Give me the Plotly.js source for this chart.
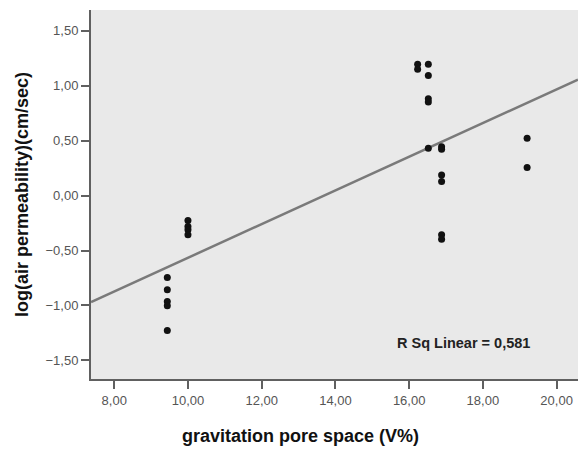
<!DOCTYPE html>
<html>
<head>
<meta charset="utf-8">
<script src="https://cdn.plot.ly/plotly-3.0.1.min.js"></script>
<style>html,body{margin:0;padding:0;background:#fff;}#chart{width:578px;height:452px;}</style>
</head>
<body>
<div id="chart"></div>
<script>
// Data
var poreSpace = [9.44, 9.44, 9.44, 9.44, 9.44,
                 10.0, 10.0, 10.0, 10.0,
                 16.23, 16.23,
                 16.52, 16.52, 16.52, 16.52, 16.52,
                 16.88, 16.88, 16.88, 16.88, 16.88, 16.88,
                 19.2, 19.2];
var logPerm = [-0.745, -0.857, -0.964, -1.003, -1.227,
               -0.227, -0.282, -0.312, -0.357,
               1.195, 1.149,
               1.195, 1.091, 0.880, 0.850, 0.431,
               0.445, 0.422, 0.188, 0.127, -0.357, -0.397,
               0.522, 0.255];
var xTickVals = [8, 10, 12, 14, 16, 18, 20];
var yTickVals = [-1.5, -1.0, -0.5, 0, 0.5, 1.0, 1.5];
var rSqLabel = "R Sq Linear = 0,581";

// Least-squares fit line computed from the data
var n = poreSpace.length, sx = 0, sy = 0;
for (var i = 0; i < n; i++) { sx += poreSpace[i]; sy += logPerm[i]; }
var mx = sx / n, my = sy / n, sxy = 0, sxx = 0;
for (var i = 0; i < n; i++) { sxy += (poreSpace[i]-mx)*(logPerm[i]-my); sxx += (poreSpace[i]-mx)*(poreSpace[i]-mx); }
var slope = sxy / sxx, intercept = my - slope * mx;
var xRange = [7.37, 20.58];
var fitX = xRange.slice();
var fitY = fitX.map(function (x) { return intercept + slope * x; });

var traces = [
  { x: fitX, y: fitY, type: 'scatter', mode: 'lines',
    line: { color: '#7a7a7a', width: 2.5 }, hoverinfo: 'skip', showlegend: false },
  { x: poreSpace, y: logPerm, type: 'scatter', mode: 'markers',
    marker: { color: '#111111', size: 7 }, showlegend: false }
];

var tickFont = { family: 'Arial, Liberation Sans, sans-serif', size: 13, color: '#555555' };
var layout = {
  width: 578, height: 452,
  margin: { l: 91, r: 0, t: 10, b: 73 },
  paper_bgcolor: '#ffffff',
  plot_bgcolor: '#e9e9e9',
  separators: ',.',
  showlegend: false,
  xaxis: {
    range: xRange, tickvals: xTickVals, tickformat: '.2f',
    showgrid: false, zeroline: false,
    showline: true, linecolor: '#606060', linewidth: 2,
    ticks: 'outside', ticklen: 8, tickwidth: 2, tickcolor: '#606060',
    tickfont: tickFont
  },
  yaxis: {
    range: [-1.669, 1.688], tickvals: yTickVals, tickformat: '.2f',
    showgrid: false, zeroline: false,
    showline: true, linecolor: '#606060', linewidth: 2,
    ticks: 'outside', ticklen: 8, tickwidth: 2, tickcolor: '#606060',
    tickfont: tickFont,
    title: { text: 'log(air permeability)(cm/sec)', standoff: 12,
             font: { family: 'Arial, Liberation Sans, sans-serif', size: 18, color: '#111111', weight: 'bold' } }
  },
  annotations: [
    { text: '<b>gravitation pore space (V%)</b>', xref: 'paper', yref: 'paper',
      x: (300 - 91) / 487, y: -0.155, xanchor: 'center', yanchor: 'middle', showarrow: false,
      font: { family: 'Arial, Liberation Sans, sans-serif', size: 18, color: '#111111' } },
    { text: '<b>' + rSqLabel + '</b>', xref: 'paper', yref: 'paper',
      x: (463.5 - 91) / 487, y: (379 - 343) / 369, xanchor: 'center', yanchor: 'middle', showarrow: false,
      font: { family: 'Arial, Liberation Sans, sans-serif', size: 14.5, color: '#222222' } }
  ]
};

Plotly.newPlot('chart', traces, layout, { displayModeBar: false, staticPlot: true });
</script>
</body>
</html>
